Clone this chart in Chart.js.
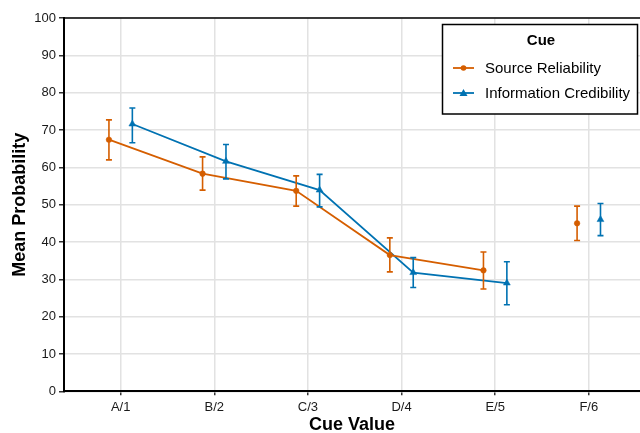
<!DOCTYPE html>
<html>
<head>
<meta charset="utf-8">
<script src="https://cdn.jsdelivr.net/npm/chart.js@4"></script>
<style>
    html, body { margin: 0; padding: 0; background: #ffffff; }
    #wrap { width: 640px; height: 433px; }
</style>
</head>
<body>
<div id="wrap"><canvas id="cueChart" width="640" height="433"></canvas></div>
<script>
// القيم المقروءة من الرسم
const cues = ['A/1', 'B/2', 'C/3', 'D/4', 'E/5', 'F/6'];
const yTicks = [0, 10, 20, 30, 40, 50, 60, 70, 80, 90, 100];

const srMean = [67.4, 58.3, 53.7, 36.5, 32.4, 45.0];
const srLow  = [62.0, 53.9, 49.6, 32.0, 27.4, 40.4];
const srHigh = [72.7, 62.8, 57.7, 41.1, 37.3, 49.6];

const icMean = [71.6, 61.6, 53.9, 31.8, 29.0, 46.0];
const icLow  = [66.6, 56.9, 49.4, 27.8, 23.2, 41.7];
const icHigh = [75.9, 66.1, 58.1, 35.8, 34.7, 50.3];

const ORANGE = '#D55E00';
const BLUE = '#0072B2';
const FONT = "'Liberation Sans', Arial, Helvetica, sans-serif";
const DODGE = 0.125;

// نقاط كل سلسلة مع الإزاحة الأفقية
function buildPoints(means, shift) {
    return means.map((v, i) => ({ x: i + 1 + shift, y: v }));
}

// آخر نقطة (F/6) غير متصلة بالخط
const hideLastSegment = {
    borderColor: ctx => ctx.p1DataIndex === cues.length - 1 ? 'rgba(0,0,0,0)' : undefined
};

// أشرطة الخطأ
const errorBarsPlugin = {
    id: 'errorBars',
    afterDatasetsDraw(chart) {
        const ctx = chart.ctx;
        const yScale = chart.scales.y;
        chart.data.datasets.forEach((ds, di) => {
            const meta = chart.getDatasetMeta(di);
            ctx.save();
            ctx.strokeStyle = ds.borderColor;
            ctx.lineWidth = 1.6;
            meta.data.forEach((pt, i) => {
                const x = pt.x;
                const yLo = yScale.getPixelForValue(ds.errLow[i]);
                const yHi = yScale.getPixelForValue(ds.errHigh[i]);
                ctx.beginPath();
                ctx.moveTo(x, yLo); ctx.lineTo(x, yHi);
                ctx.moveTo(x - 3, yLo); ctx.lineTo(x + 3, yLo);
                ctx.moveTo(x - 3, yHi); ctx.lineTo(x + 3, yHi);
                ctx.stroke();
            });
            ctx.restore();
        });
    }
};

// الإطار العلوي ووسيلة الإيضاح
const framePlugin = {
    id: 'frame',
    afterDraw(chart) {
        const ctx = chart.ctx;
        const area = chart.chartArea;
        ctx.save();
        ctx.strokeStyle = '#000';
        ctx.lineWidth = 1.5;
        ctx.beginPath();
        ctx.moveTo(area.left, area.top);
        ctx.lineTo(area.right, area.top);
        ctx.stroke();

        // صندوق وسيلة الإيضاح
        const bx = 442.5, by = 24.5, bw = 195, bh = 89.5;
        ctx.fillStyle = '#fff';
        ctx.fillRect(bx, by, bw, bh);
        ctx.strokeRect(bx, by, bw, bh);

        ctx.fillStyle = '#000';
        ctx.textAlign = 'center';
        ctx.textBaseline = 'middle';
        ctx.font = 'bold 15px ' + FONT;
        ctx.fillText('Cue', 541, 41);

        ctx.textAlign = 'left';
        ctx.font = '15px ' + FONT;
        chart.data.datasets.forEach((ds, i) => {
            const y = 68 + i * 25;
            ctx.strokeStyle = ds.borderColor;
            ctx.lineWidth = 1.8;
            ctx.beginPath();
            ctx.moveTo(453, y); ctx.lineTo(474, y);
            ctx.stroke();
            ctx.fillStyle = ds.borderColor;
            ctx.beginPath();
            if (ds.pointStyle === 'triangle') {
                ctx.moveTo(463.5, y - 4); ctx.lineTo(467.5, y + 3); ctx.lineTo(459.5, y + 3);
                ctx.closePath();
            } else {
                ctx.arc(463.5, y, 2.8, 0, Math.PI * 2);
            }
            ctx.fill();
            ctx.fillStyle = '#000';
            ctx.fillText(ds.label, 485, y + 0.5);
        });
        ctx.restore();
    }
};

new Chart(document.getElementById('cueChart'), {
    type: 'line',
    data: {
        datasets: [{
            label: 'Source Reliability',
            data: buildPoints(srMean, -DODGE),
            errLow: srLow,
            errHigh: srHigh,
            borderColor: ORANGE,
            backgroundColor: ORANGE,
            borderWidth: 1.8,
            pointStyle: 'circle',
            pointRadius: 2.8,
            pointBorderWidth: 0.5,
            pointHoverRadius: 2.8,
            segment: hideLastSegment
        }, {
            label: 'Information Credibility',
            data: buildPoints(icMean, DODGE),
            errLow: icLow,
            errHigh: icHigh,
            borderColor: BLUE,
            backgroundColor: BLUE,
            borderWidth: 1.8,
            pointStyle: 'triangle',
            pointRadius: 4,
            pointBorderWidth: 0.5,
            pointHoverRadius: 4,
            segment: hideLastSegment
        }]
    },
    options: {
        responsive: false,
        animation: false,
        events: [],
        layout: { autoPadding: false, padding: { top: 18, right: 0, left: 0, bottom: 0 } },
        scales: {
            x: {
                type: 'linear',
                min: 0.395,
                max: 6.547,
                afterFit: scale => { scale.height = 41.7; },
                afterBuildTicks: scale => {
                    scale.ticks = cues.map((c, i) => ({ value: i + 1 }));
                },
                ticks: {
                    callback: v => cues[Math.round(v) - 1],
                    color: '#1a1a1a',
                    padding: 4,
                    maxRotation: 0,
                    font: { family: FONT, size: 13 }
                },
                grid: {
                    color: '#e2e2e2',
                    lineWidth: 1.5,
                    tickColor: '#333',
                    tickLength: 4
                },
                border: { color: '#000', width: 2 },
                title: {
                    display: true,
                    text: 'Cue Value',
                    color: '#000',
                    padding: { top: 0, bottom: -3 },
                    font: { family: FONT, size: 18, weight: 'bold' }
                }
            },
            y: {
                min: 0,
                max: 100,
                afterFit: scale => { scale.width = 64; },
                afterBuildTicks: scale => {
                    scale.ticks = yTicks.map(v => ({ value: v }));
                },
                ticks: {
                    color: '#1a1a1a',
                    padding: 3,
                    font: { family: FONT, size: 13 }
                },
                grid: {
                    color: '#e2e2e2',
                    lineWidth: 1.5,
                    tickColor: '#333',
                    tickLength: 5
                },
                border: { color: '#000', width: 2 },
                title: {
                    display: true,
                    text: 'Mean Probability',
                    color: '#000',
                    padding: { top: 9, bottom: 0 },
                    font: { family: FONT, size: 18, weight: 'bold' }
                }
            }
        },
        plugins: {
            legend: { display: false },
            tooltip: { enabled: false }
        }
    },
    plugins: [errorBarsPlugin, framePlugin]
});
</script>
</body>
</html>
